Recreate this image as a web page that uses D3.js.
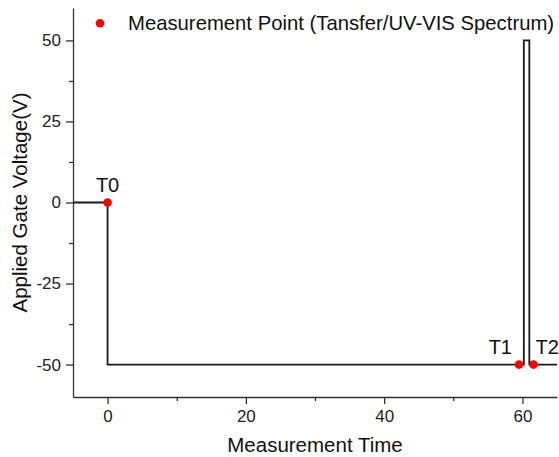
<!DOCTYPE html>
<html>
<head>
<meta charset="utf-8">
<script src="https://cdn.jsdelivr.net/npm/d3@7"></script>
<style>
  body { margin: 0; background: #fff; }
  svg { font-family: "Liberation Sans", Arial, sans-serif; }
  .axis path, .axis line { stroke: #333; stroke-width: 1.3; }
  .axis text { fill: #222; font-size: 17px; font-family: "Liberation Sans", Arial, sans-serif; }
</style>
</head>
<body>
<svg id="chart" width="559" height="457"></svg>
<script>
// gate voltage profile (time, voltage)
var profileTime = [-5, 0, 0, 60.2, 60.2, 61, 61, 65];
var profileVolt = [0, 0, -50, -50, 50, 50, -50, -50];

// measurement points
var pointNames = ["T0", "T1", "T2"];
var pointTime = [0, 59.5, 61.6];
var pointVolt = [0, -50, -50];

var xTicks = [0, 20, 40, 60];
var xMinor = [10, 30, 50];
var yTicks = [-50, -25, 0, 25, 50];
var yMinor = [-37.5, -12.5, 12.5, 37.5];

var margin = {left: 73, right: 2, top: 8, bottom: 60};
var svg = d3.select("#chart");
var width = 559 - margin.left - margin.right;
var height = 457 - margin.top - margin.bottom;

var g = svg.append("g").attr("transform", "translate(" + margin.left + "," + margin.top + ")");

var x = d3.scaleLinear().domain([-5, 65]).range([0, width]);
var y = d3.scaleLinear().domain([-60, 60]).range([height, 0]);

// plain hyphen for negatives, like the original
var fmt = function(d){ return String(d); };

// minor ticks
g.append("g")
    .attr("class", "axis")
    .attr("transform", "translate(0," + height + ")")
    .call(d3.axisBottom(x).tickValues(xMinor).tickSize(4).tickFormat(""))
    .select(".domain").remove();
g.append("g")
    .attr("class", "axis")
    .call(d3.axisLeft(y).tickValues(yMinor).tickSize(4).tickFormat(""))
    .select(".domain").remove();

// major axes
g.append("g")
    .attr("class", "axis")
    .attr("transform", "translate(0," + height + ")")
    .call(d3.axisBottom(x).tickValues(xTicks).tickFormat(fmt).tickSize(7).tickSizeOuter(0).tickPadding(6));
g.append("g")
    .attr("class", "axis")
    .call(d3.axisLeft(y).tickValues(yTicks).tickFormat(fmt).tickSize(7).tickSizeOuter(0).tickPadding(5));

// axis titles
svg.append("text")
    .attr("x", margin.left + width / 2)
    .attr("y", 452)
    .attr("text-anchor", "middle")
    .style("font-size", "20.5px")
    .attr("fill", "#111")
    .text("Measurement Time");

svg.append("text")
    .attr("transform", "translate(27," + (margin.top + height / 2) + ") rotate(-90)")
    .attr("text-anchor", "middle")
    .style("font-size", "20.5px")
    .attr("fill", "#111")
    .text("Applied Gate Voltage(V)");

// profile line
var profile = profileTime.map(function(t, i){ return {t: t, v: profileVolt[i]}; });
g.append("path")
    .datum(profile)
    .attr("fill", "none")
    .attr("stroke", "#1a1a1a")
    .attr("stroke-width", 1.8)
    .attr("d", d3.line().x(d => x(d.t)).y(d => y(d.v)));

// measurement points
var pts = pointNames.map(function(n, i){ return {name: n, t: pointTime[i], v: pointVolt[i]}; });
g.selectAll(".pt")
    .data(pts)
    .join("circle")
    .attr("class", "pt")
    .attr("cx", d => x(d.t))
    .attr("cy", d => y(d.v))
    .attr("r", 4.3)
    .attr("fill", "#ff0000");

g.selectAll(".pt-label")
    .data(pts)
    .join("text")
    .attr("class", "pt-label")
    .attr("x", function(d){
        if (d.name == "T0") return x(d.t);
        else if (d.name == "T1") return x(d.t) - 7;
        else return x(d.t) + 2;
    })
    .attr("y", function(d){ return y(d.v) - 11; })
    .attr("text-anchor", function(d){
        if (d.name == "T0") return "middle";
        else if (d.name == "T1") return "end";
        else return "start";
    })
    .style("font-size", "20px")
    .attr("fill", "#111")
    .text(d => d.name);

// legend
svg.append("circle")
    .attr("cx", 100)
    .attr("cy", 23.3)
    .attr("r", 4.3)
    .attr("fill", "#ff0000");
svg.append("text")
    .attr("x", 128)
    .attr("y", 30)
    .style("font-size", "20.3px")
    .attr("fill", "#111")
    .text("Measurement Point (Tansfer/UV-VIS Spectrum)");
</script>
</body>
</html>
